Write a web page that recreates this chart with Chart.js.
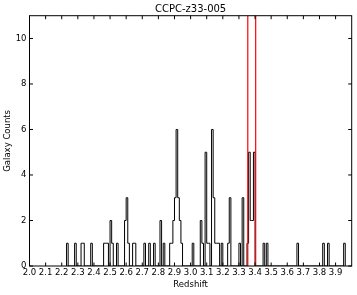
<!DOCTYPE html>
<html><head><meta charset="utf-8">
<script src="https://cdn.jsdelivr.net/npm/chart.js@4.4.0/dist/chart.umd.min.js"></script>
<style>html,body{margin:0;padding:0;background:#fff;}#wrap{width:357px;height:295px;}</style>
</head><body><div id="wrap"><canvas id="c" width="357" height="295"></canvas></div>
<script>
const chartTitle = 'CCPC-z33-005';
const xLabel = 'Redshift';
const yLabel = 'Galaxy Counts';
const binWidth = 0.01;
const binLeft = [2.23,2.28,2.32,2.33,2.38,2.46,2.47,2.48,2.50,2.51,2.54,2.59,2.60,2.61,2.64,2.65,
  2.71,2.74,2.77,2.81,2.83,2.87,2.88,2.89,2.90,2.91,2.92,2.93,2.94,3.01,3.06,3.07,3.09,3.10,3.11,
  3.13,3.14,3.15,3.16,3.17,3.19,3.23,3.24,3.30,3.32,3.35,3.36,3.37,3.38,3.39,3.45,3.47,3.66,3.82,3.85,3.95];
const binCount = [1,1,1,1,1,1,1,1,2,1,1,2,3,1,1,1,
  1,1,1,2,1,1,1,2,3,6,3,2,1,1,2,1,5,1,1,
  6,3,1,1,1,1,1,3,1,3,1,5,2,2,5,1,1,1,1,1,1];
const clusterLines = [3.355, 3.404];
const xTicks = [2.0,2.1,2.2,2.3,2.4,2.5,2.6,2.7,2.8,2.9,3.0,3.1,3.2,3.3,3.4,3.5,3.6,3.7,3.8,3.9];
const yTicks = [0,2,4,6,8,10];
const xRange = [2.0, 4.0];
const yRange = [0, 11];

// step outline of the histogram (matplotlib histtype='step')
const stepPts = [];
for (let i = 0; i < binLeft.length; i++) {
  const L = binLeft[i], R = L + binWidth;
  const prevAdj = i > 0 && Math.abs(binLeft[i-1] + binWidth - L) < 1e-6;
  if (!prevAdj) stepPts.push({x: L, y: 0});
  stepPts.push({x: L, y: binCount[i]});
  const next = binLeft[i+1];
  if (next === undefined || Math.abs(next - R) > 1e-6) stepPts.push({x: R, y: 0});
}

const FONT = '"DejaVu Sans", sans-serif';
const decor = {
  id: 'decor',
  afterDatasetsDraw(chart) {
    const {ctx, chartArea: a, scales: {x, y}} = chart;
    ctx.save();
    ctx.strokeStyle = '#000'; ctx.lineWidth = 1;
    ctx.strokeRect(a.left, a.top, a.right - a.left, a.bottom - a.top);
    const tl = 3.5;
    ctx.beginPath();
    xTicks.forEach(v => { const p = x.getPixelForValue(v);
      ctx.moveTo(p, a.bottom); ctx.lineTo(p, a.bottom - tl);
      ctx.moveTo(p, a.top); ctx.lineTo(p, a.top + tl); });
    yTicks.forEach(v => { const p = y.getPixelForValue(v);
      ctx.moveTo(a.left, p); ctx.lineTo(a.left + tl, p);
      ctx.moveTo(a.right, p); ctx.lineTo(a.right - tl, p); });
    ctx.stroke();
    ctx.restore();
  }
};

const datasets = [{
  type: 'line', label: 'hist', data: stepPts, stepped: true, borderColor: '#000000', borderWidth: 1,
  pointRadius: 0, fill: false, order: 2
}];
clusterLines.forEach((z, i) => datasets.push({
  type: 'scatter', showLine: true, label: 'z' + i,
  data: [{x: z, y: yRange[0]}, {x: z, y: yRange[1]}],
  borderColor: 'rgb(255,0,0)', backgroundColor: 'rgb(255,0,0)',
  borderWidth: 1.2, pointRadius: 0, fill: false, order: 0
}));

new Chart(document.getElementById('c'), {
  type: 'line',
  data: {datasets},
  options: {
    responsive: false, animation: false, devicePixelRatio: 1,
    layout: {padding: {left: 0, right: 5.3, top: 0, bottom: 0}},
    plugins: {
      legend: {display: false}, tooltip: {enabled: false},
      title: {display: true, text: chartTitle, fullSize: false, color: '#000',
        font: {family: FONT, size: 10, weight: 'normal'}, padding: {top: 3, bottom: 0.7}}
    },
    scales: {
      x: {type: 'linear', min: xRange[0], max: xRange[1],
        grid: {display: false, drawTicks: false}, border: {display: false},
        afterBuildTicks: s => { s.ticks = xTicks.map(v => ({value: v})); },
        afterFit: s => { s.height = 29; },
        ticks: {autoSkip: false, maxRotation: 0, minRotation: 0, padding: 2, color: '#000',
          font: {family: FONT, size: 8.5}, callback: v => Number(v).toFixed(1)},
        title: {display: true, text: xLabel, color: '#000', font: {family: FONT, size: 8.5},
          padding: {top: 0, bottom: 4.9}}
      },
      y: {type: 'linear', min: yRange[0], max: yRange[1],
        grid: {display: false, drawTicks: false}, border: {display: false},
        afterBuildTicks: s => { s.ticks = yTicks.map(v => ({value: v})); },
        afterFit: s => { s.width = 29.5; },
        ticks: {padding: 3, color: '#000', font: {family: FONT, size: 8.5}, callback: v => String(v)},
        title: {display: true, text: yLabel, color: '#000', font: {family: FONT, size: 8.5},
          padding: {top: 3, bottom: 0}}
      }
    }
  },
  plugins: [decor]
});
</script></body></html>
